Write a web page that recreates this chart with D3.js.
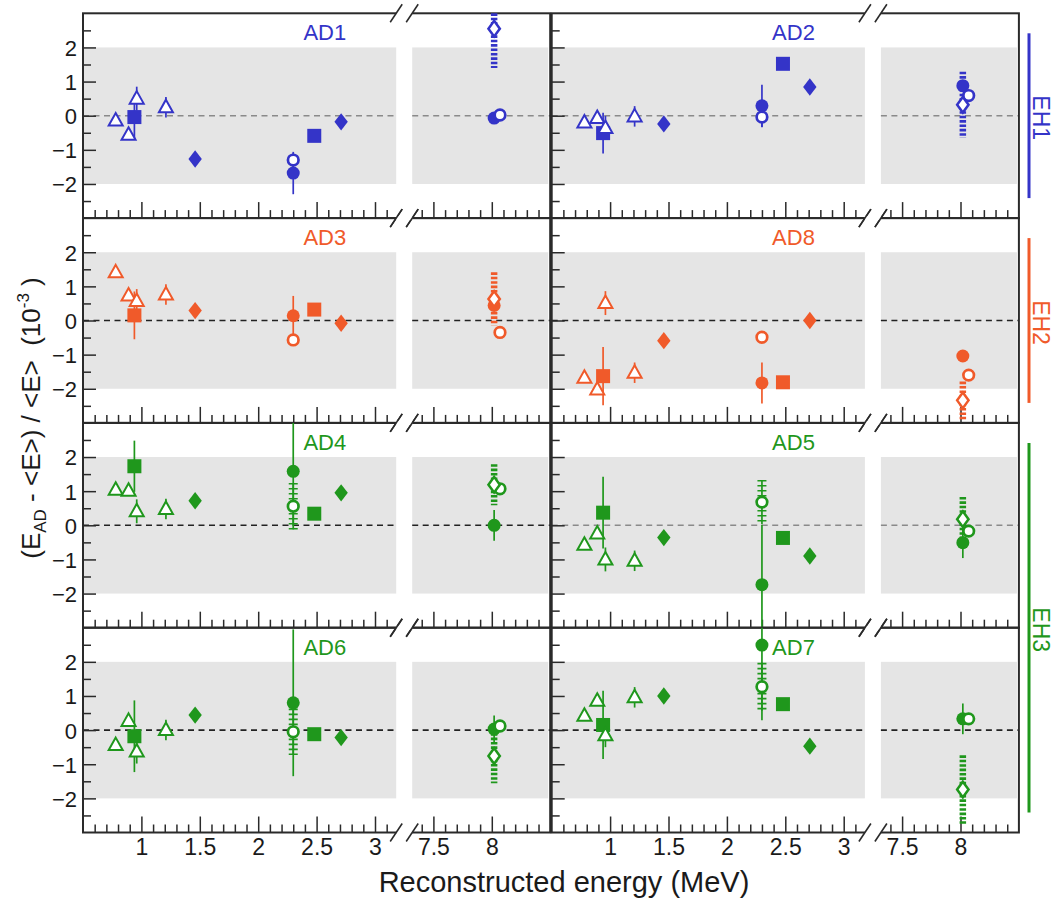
<!DOCTYPE html>
<html><head><meta charset="utf-8">
<script src="https://cdn.jsdelivr.net/npm/d3@7"></script>
<style>body{margin:0;background:#fff}</style>
</head><body><svg id="c" width="1056" height="901"></svg>
<script>
// ---------------- data ----------------
const detectors = ["AD1","AD2","AD3","AD8","AD4","AD5","AD6","AD7"];
const halls     = ["EH1","EH1","EH2","EH2","EH3","EH3","EH3","EH3"];
const hallNames = ["EH1","EH2","EH3"];
const grayZero  = ["AD1","AD2","AD5"];

// energies (MeV) of each marker family
const triE = [0.78, 0.89, 0.96, 1.21];   // open triangles
const sqE  = [0.94, 2.48];               // filled squares
const fdE  = [1.46, 2.71];               // filled diamonds
const fcE  = [2.30, 8.02];               // filled circles
const ocE  = [2.30, 8.07];               // open circles
const odE  = [8.02];                     // open diamond

// values (10^-3), one row per detector in the order of `detectors`
const triVal = [[-0.14,-0.56,0.50,0.25],[-0.20,-0.07,-0.36,-0.02],[1.41,0.73,0.57,0.76],[-1.68,-2.02,0.51,-1.53],
                [1.04,1.01,0.41,0.48],[-0.57,-0.24,-1.00,-1.04],[-0.44,0.27,-0.63,0.00],[0.42,0.86,-0.15,0.96]];
const triErr = [0.12, 0.10, 0.35, 0.30];
const sqVal  = [[-0.04,-0.59],[-0.51,1.52],[0.15,0.32],[-1.63,-1.81],[1.73,0.34],[0.37,-0.37],[-0.18,-0.12],[0.15,0.76]];
const sqErr  = [[0.65,0],[0.60,0],[0.70,0],[0.85,0],[0.75,0],[1.05,0],[1.05,0],[1.00,0]];
const fdVal  = [[-1.27,-0.18],[-0.24,0.84],[0.29,-0.08],[-0.59,0.00],[0.72,0.95],[-0.36,-0.90],[0.44,-0.22],[1.00,-0.47]];
const fcVal  = [[-1.68,-0.07],[0.29,0.88],[0.14,0.44],[-1.83,-1.04],[1.58,0.00],[-1.74,-0.51],[0.80,0.03],[2.49,0.33]];
const fcErr  = [[0.62,0.10],[0.62,0.10],[0.58,0.15],[0.60,0.10],[1.60,0.45],[1.75,0.45],[2.15,0.40],[2.20,0.45]];
const ocVal  = [[-1.30,0.02],[-0.04,0.59],[-0.57,-0.35],[-0.49,-1.60],[0.56,1.07],[0.68,-0.17],[-0.05,0.12],[1.27,0.33]];
const ocStat = [0.20, 0.30, 0.15, 0.15, 0.68, 0.65, 0.68, 0.70];
const ocSys  = [0, 0, 0, 0, 0.68, 0.65, 0.68, 0.70];
const odVal  = [2.55, 0.32, 0.63, -2.34, 1.19, 0.18, -0.76, -1.74];
const odSys  = [1.15, 0.97, 0.78, 0.55, 0.60, 0.65, 0.80, 1.00];

const xMajor = [1, 1.5, 2, 2.5, 3, 7.5, 8];
const xMinor = [0.6,0.7,0.8,0.9,1.1,1.2,1.3,1.4,1.6,1.7,1.8,1.9,2.1,2.2,2.3,2.4,2.6,2.7,2.8,2.9,3.1,
                7.4,7.6,7.7,7.8,7.9,8.1,8.2,8.3,8.4];
const yMajor = [-2,-1,0,1,2];
const yMinor = [-2.5,-1.5,-0.5,0.5,1.5,2.5];

// ---------------- drawing ----------------
const FONT = "'Liberation Sans', Arial, Helvetica, sans-serif";
const hallColor = {EH1:"#3434c8", EH2:"#f05a2a", EH3:"#1f971c"};
const svg = d3.select("#c");
const colX = [83, 551.7], W = 467.2, rowY0 = 13.3, H = 204.8;
const k = W / 4;
const x = d3.scaleLinear().domain([0.5, 3.25, 7.25, 8.5]).range([0, 2.75*k, 2.75*k, 4*k]);
const y = d3.scaleLinear().domain([-3, 3]).range([H, 0]);
const xb = x(3.25), gapHalf = 8;
const clipV = v => Math.max(-3, Math.min(3, v));

const sym = {
  tri: "M0,-7.5L7,5L-7,5Z",
  fd: "M0,-8.7L6.7,0L0,8.7L-6.7,0Z",
  od: "M0,-7.8L5.7,0L0,7.8L-5.7,0Z"
};

detectors.forEach((name, i) => {
  const col = i % 2, row = Math.floor(i / 2);
  const color = hallColor[halls[i]];
  const g = svg.append("g").attr("transform", `translate(${colX[col]},${rowY0 + row*H})`);

  // gray band
  g.append("rect").attr("x", 0).attr("y", y(2)).attr("width", xb - gapHalf).attr("height", y(-2) - y(2)).attr("fill", "#e5e5e5");
  g.append("rect").attr("x", xb + gapHalf).attr("y", y(2)).attr("width", W - xb - gapHalf - 2).attr("height", y(-2) - y(2)).attr("fill", "#e5e5e5");

  // zero dashed line
  const zc = grayZero.includes(name) ? "#8a8a8a" : "#222";
  [[0, xb - gapHalf], [xb + gapHalf, W]].forEach(([a, b]) => {
    g.append("line").attr("x1", a).attr("x2", b).attr("y1", y(0)).attr("y2", y(0))
      .attr("stroke", zc).attr("stroke-width", 1.6).attr("stroke-dasharray", "6,4.5");
  });

  // axes ticks
  const xAxisMaj = d3.axisBottom(x).tickValues(xMajor).tickSizeInner(-16).tickSizeOuter(0).tickPadding(6)
      .tickFormat(row === 3 ? d3.format("") : () => "");
  const xAxisMin = d3.axisBottom(x).tickValues(xMinor).tickSizeInner(-8).tickSizeOuter(0).tickFormat(() => "");
  const ax1 = g.append("g").attr("transform", `translate(0,${H})`).call(xAxisMaj);
  const ax2 = g.append("g").attr("transform", `translate(0,${H})`).call(xAxisMin);
  const yAxisMaj = d3.axisLeft(y).tickValues(yMajor).tickSizeInner(-13).tickSizeOuter(0).tickPadding(6)
      .tickFormat(col === 0 ? d3.format("") : () => "");
  const yAxisMin = d3.axisLeft(y).tickValues(yMinor).tickSizeInner(-8).tickSizeOuter(0).tickFormat(() => "");
  const ay1 = g.append("g").call(yAxisMaj);
  const ay2 = g.append("g").call(yAxisMin);
  [ax1, ax2, ay1, ay2].forEach(a => {
    a.select(".domain").remove();
    a.attr("color", "#2a2a2a").attr("font-family", FONT);
    a.selectAll("line").attr("stroke-width", 1.5);
  });
  ax1.attr("font-size", 23); ay1.attr("font-size", 22);
  ax1.selectAll("text").attr("fill", "#1a1a1a");
  ay1.selectAll("text").attr("fill", "#1a1a1a").attr("dy", "0.36em");

  // frame
  g.append("rect").attr("x", 0).attr("y", 0).attr("width", W).attr("height", H)
    .attr("fill", "none").attr("stroke", "#2a2a2a").attr("stroke-width", 2);

  // break marks
  [0, H].forEach(yy => {
    g.append("rect").attr("x", xb - gapHalf).attr("y", yy - 2).attr("width", 2*gapHalf).attr("height", 4).attr("fill", "#fff");
    [xb - gapHalf, xb + gapHalf].forEach(cx => {
      g.append("line").attr("x1", cx - 6).attr("y1", yy + 9).attr("x2", cx + 6).attr("y2", yy - 9)
        .attr("stroke", "#2a2a2a").attr("stroke-width", 1.6);
    });
  });

  // label
  g.append("text").attr("x", x(2.57)).attr("y", 27).attr("text-anchor", "middle")
    .attr("font-family", FONT).attr("font-size", 22).attr("fill", color).text(name);

  // ---- error bars ----
  const eb = g.append("g");
  function statBar(e, v, err) {
    if (!err) return;
    eb.append("line").attr("x1", x(e)).attr("x2", x(e)).attr("y1", y(clipV(v + err))).attr("y2", y(clipV(v - err)))
      .attr("stroke", color).attr("stroke-width", 1.7);
  }
  function sysBar(e, v, err, w, dash) {
    if (!err) return;
    eb.append("line").attr("x1", x(e)).attr("x2", x(e)).attr("y1", y(clipV(v + err))).attr("y2", y(clipV(v - err)))
      .attr("stroke", color).attr("stroke-width", w).attr("stroke-dasharray", dash);
  }
  sqE.forEach((e, j) => statBar(e, sqVal[i][j], sqErr[i][j]));
  triE.forEach((e, j) => statBar(e, triVal[i][j], triErr[j]));
  fcE.forEach((e, j) => statBar(e, fcVal[i][j], fcErr[i][j]));
  statBar(ocE[0], ocVal[i][0], ocStat[i]);
  sysBar(ocE[0], ocVal[i][0], ocSys[i], 9, "1.6,3.4");
  sysBar(odE[0], odVal[i], odSys[i], 6.5, "2.6,1.8");

  // ---- markers ----
  const mk = g.append("g");
  sqE.forEach((e, j) => mk.append("rect").attr("x", x(e) - 7).attr("y", y(sqVal[i][j]) - 7)
    .attr("width", 14).attr("height", 14).attr("fill", color));
  fdE.forEach((e, j) => mk.append("path").attr("d", sym.fd)
    .attr("transform", `translate(${x(e)},${y(fdVal[i][j])})`).attr("fill", color));
  fcE.forEach((e, j) => mk.append("circle").attr("cx", x(e)).attr("cy", y(fcVal[i][j])).attr("r", 6.5).attr("fill", color));
  triE.forEach((e, j) => mk.append("path").attr("d", sym.tri)
    .attr("transform", `translate(${x(e)},${y(triVal[i][j])})`)
    .attr("fill", "#fff").attr("stroke", color).attr("stroke-width", 2));
  ocE.forEach((e, j) => mk.append("circle").attr("cx", x(e)).attr("cy", y(ocVal[i][j])).attr("r", 5.3)
    .attr("fill", "#fff").attr("stroke", color).attr("stroke-width", 2.7));
  odE.forEach(e => mk.append("path").attr("d", sym.od)
    .attr("transform", `translate(${x(e)},${y(odVal[i])})`)
    .attr("fill", "#fff").attr("stroke", color).attr("stroke-width", 2.5));
});

// hall brackets
const hallRows = [[0, 0], [1, 1], [2, 3]];
hallNames.forEach((h, n) => {
  const [r0, r1] = hallRows[n];
  const y0 = rowY0 + r0*H + 20, y1 = rowY0 + (r1 + 1)*H - 20;
  svg.append("line").attr("x1", 1029).attr("x2", 1029).attr("y1", y0).attr("y2", y1)
    .attr("stroke", hallColor[h]).attr("stroke-width", 3);
  svg.append("text").attr("transform", `translate(1033,${(y0 + y1)/2 + 2}) rotate(90)`)
    .attr("text-anchor", "middle").attr("font-family", FONT).attr("font-size", 23)
    .attr("fill", hallColor[h]).text(h);
});

// axis titles
svg.append("text").attr("x", 564).attr("y", 892).attr("text-anchor", "middle")
  .attr("font-family", FONT).attr("font-size", 29).attr("fill", "#1a1a1a").text("Reconstructed energy (MeV)");

const yt = svg.append("text").attr("transform", "translate(40,418) rotate(-90)").attr("text-anchor", "middle")
  .attr("font-family", FONT).attr("font-size", 26).attr("fill", "#1a1a1a").attr("xml:space", "preserve");
yt.append("tspan").text("(E");
yt.append("tspan").attr("font-size", 17).attr("dy", 6).text("AD");
yt.append("tspan").attr("dy", -6).text(" - <E>) / <E>  (10");
yt.append("tspan").attr("font-size", 17).attr("dy", -11).text("-3");
yt.append("tspan").attr("dy", 11).text(" )");
</script>
</body></html>
